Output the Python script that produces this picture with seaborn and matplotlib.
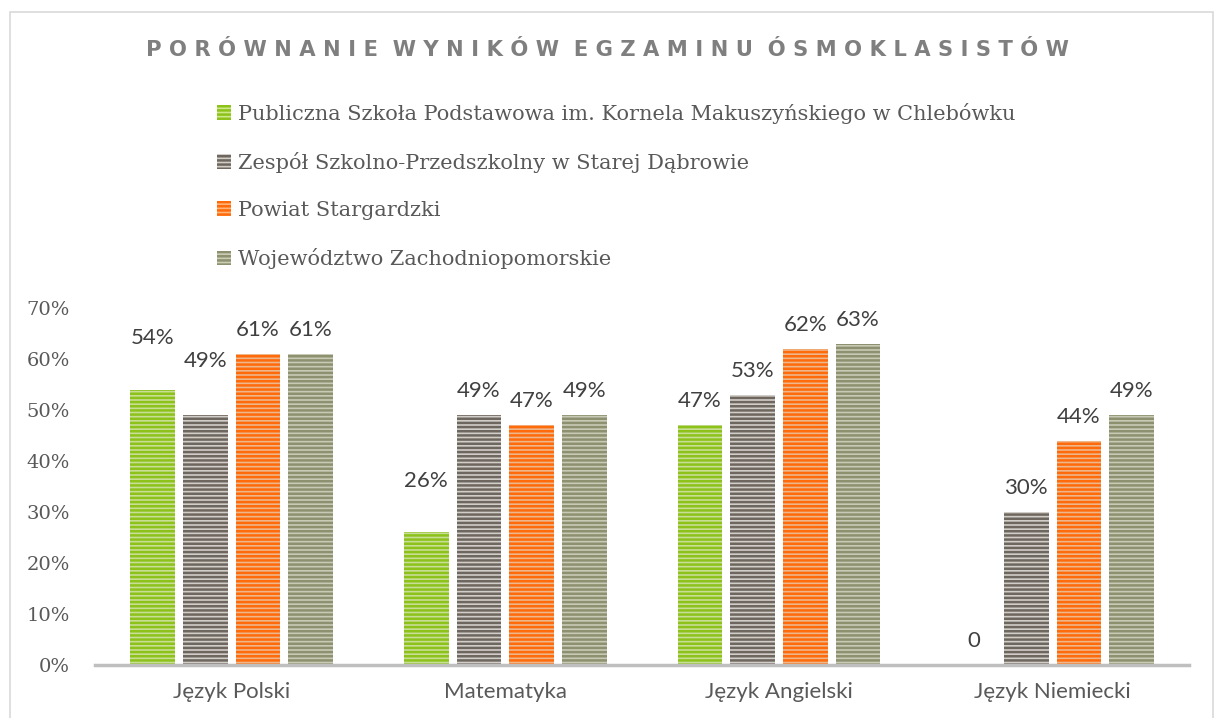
import numpy as np
import pandas as pd
import seaborn as sns
import matplotlib.pyplot as plt
from matplotlib.patches import Rectangle

plt.rcParams['hatch.linewidth'] = 1.8

subjects = ['Język Polski', 'Matematyka', 'Język Angielski', 'Język Niemiecki']
schools = ['Publiczna Szkoła Podstawowa im. Kornela Makuszyńskiego w Chlebówku',
           'Zespół Szkolno-Przedszkolny w Starej Dąbrowie',
           'Powiat Stargardzki',
           'Województwo Zachodniopomorskie']
chlebowko = [54, 26, 47, 0]
dabrowa = [49, 49, 53, 30]
powiat = [61, 47, 62, 44]
wojewodztwo = [61, 49, 63, 49]

base_colors = ['#8cc21a', '#6e675f', '#ff6a0a', '#8d9170']
light_colors = ['#cde98a', '#d2cdc6', '#ffb47a', '#cbcdb2']

rows = []
for school, vals in zip(schools, [chlebowko, dabrowa, powiat, wojewodztwo]):
    for subj, v in zip(subjects, vals):
        rows.append({'Przedmiot': subj, 'Szkoła': school, 'Wynik': v})
df = pd.DataFrame(rows)

fig = plt.figure(figsize=(12.15, 7.18), dpi=100)
ax = fig.add_axes([0.078, 0.074, 0.901, 0.497])

sns.barplot(data=df, x='Przedmiot', y='Wynik', hue='Szkoła', hue_order=schools,
            order=subjects, palette=light_colors, width=0.77, gap=0.15,
            errorbar=None, ax=ax, legend=False)

# Excel-style labels: a few were dragged higher in the original
raised = {(0, 0): 30, (1, 0): 32, (0, 1): 30}
for i, (cont, c, vals) in enumerate(zip(ax.containers, base_colors,
                                        [chlebowko, dabrowa, powiat, wojewodztwo])):
    for j, (p, v) in enumerate(zip(cont, vals)):
        p.set_hatch('----')
        p.set_edgecolor(c)
        p.set_linewidth(0)
        txt = f'{v}%' if v > 0 else '0'
        off = raised.get((i, j), 10)
        ax.annotate(txt, (p.get_x() + p.get_width() / 2, p.get_height()),
                    xytext=(0, off), textcoords='offset points', ha='center',
                    va='bottom', fontsize=16, color='#404040', family='Lato')

ax.set_ylim(0, 70)
ax.set_yticks(np.arange(0, 71, 10))
ax.set_yticklabels([f'{t}%' for t in range(0, 71, 10)], family='DejaVu Serif',
                   fontsize=14, color='#595959')
ax.set_xlim(-0.5, 3.5)
ax.tick_params(axis='x', length=0, pad=12, labelsize=16, labelcolor='#595959')
for lab in ax.get_xticklabels():
    lab.set_family('Lato')
ax.tick_params(axis='y', length=0, pad=18)
ax.set_xlabel('')
ax.set_ylabel('')
for s in ['top', 'right', 'left']:
    ax.spines[s].set_visible(False)
ax.spines['bottom'].set_color('#bfbfbf')
ax.spines['bottom'].set_linewidth(2.5)

handles = []
for c, lc, name in zip(base_colors, light_colors, schools):
    handles.append(Rectangle((0, 0), 1, 1, facecolor=lc, edgecolor=c, hatch='----',
                             linewidth=0, label=name))
fig.legend(handles=handles, loc='upper left', bbox_to_anchor=(0.163, 0.883),
           frameon=False, prop={'family': 'DejaVu Serif', 'size': 15},
           labelcolor='#595959', handlelength=0.7, handleheight=0.7,
           handletextpad=0.3, labelspacing=1.35)

title = 'PORÓWNANIE WYNIKÓW EGZAMINU ÓSMOKLASISTÓW'
spaced = '  '.join(' '.join(w) for w in title.split(' '))
fig.text(0.5, 0.93, spaced, ha='center', va='center', fontsize=15.2,
         fontweight='bold', color='#7f7f7f', family='DejaVu Sans')

fig.patches.append(Rectangle((0.008, -0.01), 0.99, 0.993, transform=fig.transFigure,
                             fill=False, edgecolor='#d9d9d9', linewidth=1.2))

fig.savefig('out.png', dpi=100)
